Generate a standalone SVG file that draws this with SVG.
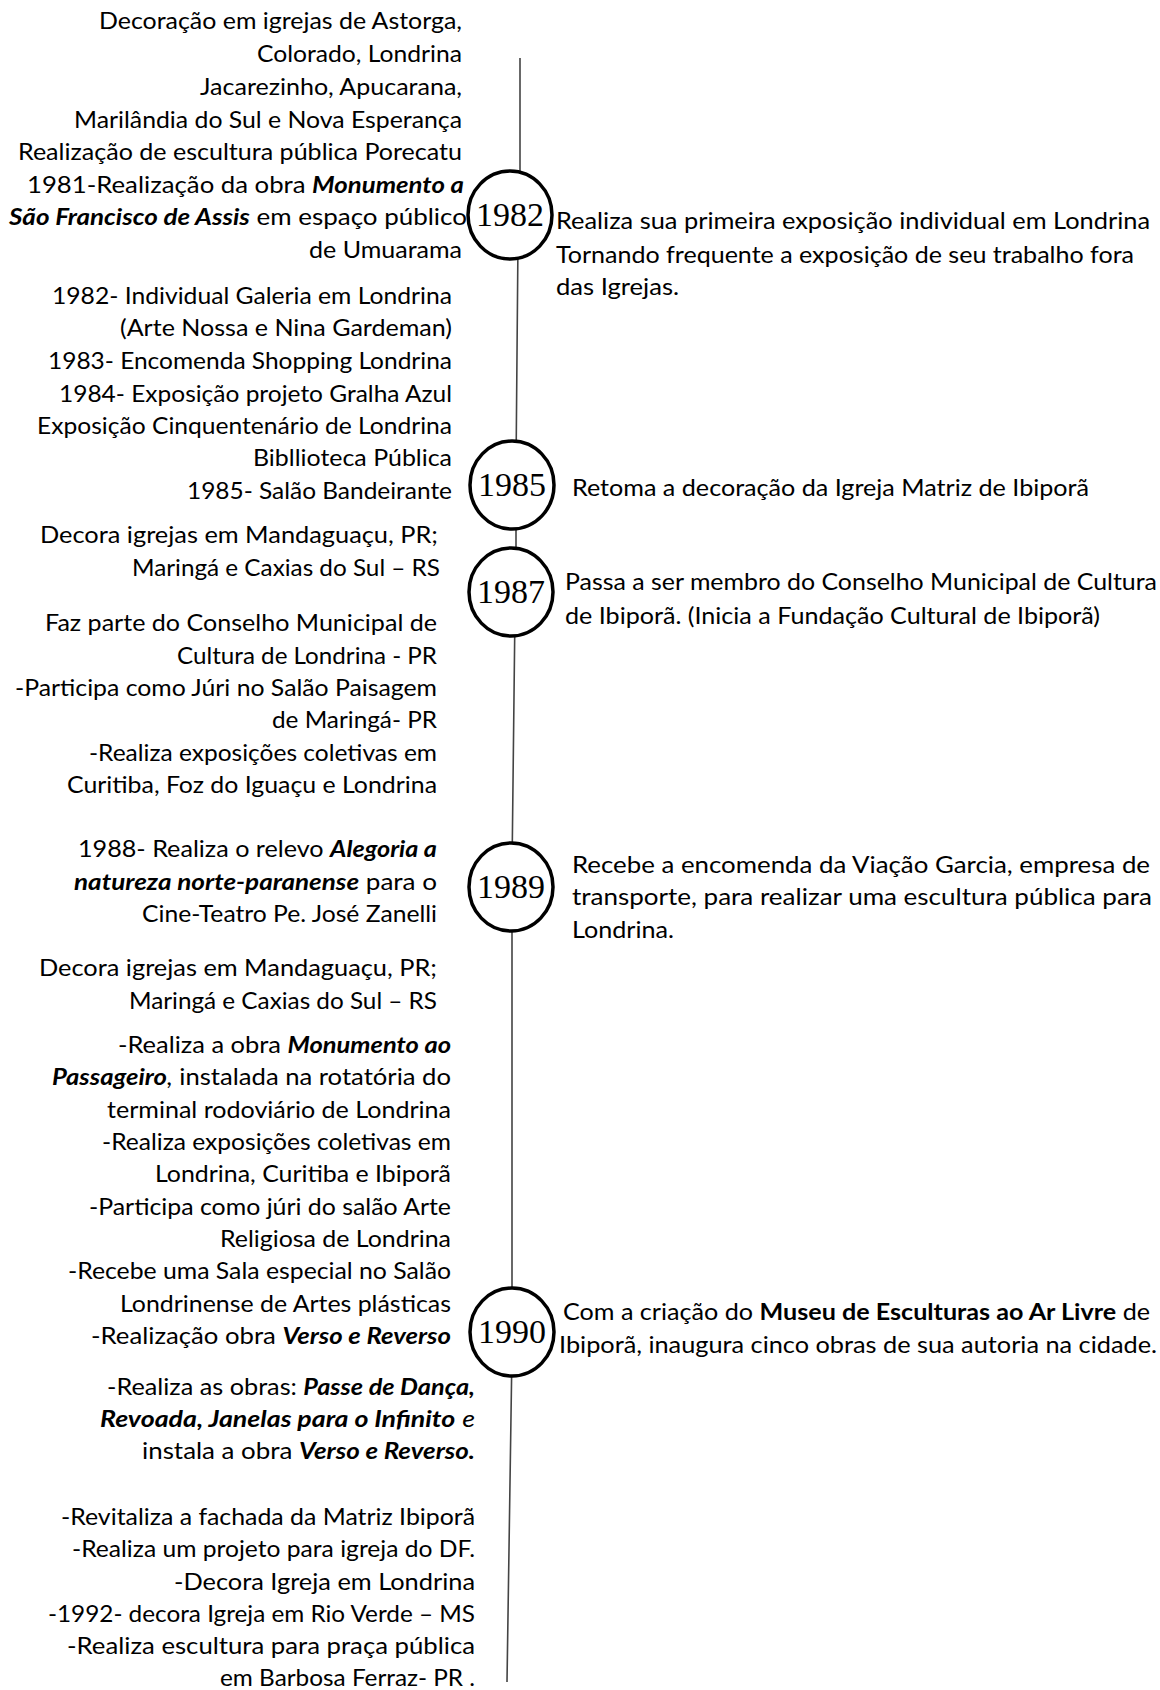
<svg xmlns="http://www.w3.org/2000/svg" width="1160" height="1690" viewBox="0 0 1160 1690">
<style>
.t{font-family:Lato,"Liberation Sans",sans-serif;font-size:23px;fill:#000}
.e{text-anchor:end}
.bi{font-weight:bold;font-style:italic}
.b{font-weight:bold}
.i{font-style:italic}
.yr{font-family:"Liberation Serif",serif;font-size:34px;fill:#000;text-anchor:middle}
.c{fill:#fff;stroke:#000;stroke-width:3.5}
.ln{fill:none;stroke:#444;stroke-width:1.6}
</style>
<rect width="1160" height="1690" fill="#fff"/>
<g id="connectors">
<path class="ln" d="M520,58 V200 M518,240 L516,470 M516,500 V570 M515,610 L512,870 M512,905 L512,1310 M512,1350 L507,1682"/>
</g>
<g id="left-1982">
<text class="t e" x="462" y="29" textLength="363" lengthAdjust="spacingAndGlyphs">Decoração em igrejas de Astorga,</text>
<text class="t e" x="462" y="62" textLength="205" lengthAdjust="spacingAndGlyphs">Colorado, Londrina</text>
<text class="t e" x="462" y="95" textLength="262" lengthAdjust="spacingAndGlyphs">Jacarezinho, Apucarana,</text>
<text class="t e" x="462" y="128" textLength="388" lengthAdjust="spacingAndGlyphs">Marilândia do Sul e Nova Esperança</text>
<text class="t e" x="462" y="160" textLength="444" lengthAdjust="spacingAndGlyphs">Realização de escultura pública  Porecatu</text>
<text class="t e" x="464" y="193" textLength="437" lengthAdjust="spacingAndGlyphs">1981-Realização da obra  <tspan class="bi">Monumento a</tspan></text>
<text class="t e" x="467" y="225" textLength="458" lengthAdjust="spacingAndGlyphs"><tspan class="bi">São Francisco de Assis</tspan> em espaço público</text>
<text class="t e" x="462" y="258" textLength="153" lengthAdjust="spacingAndGlyphs">de Umuarama</text>
</g>
<g id="left-1985">
<text class="t e" x="452" y="304" textLength="400" lengthAdjust="spacingAndGlyphs">1982- Individual Galeria em Londrina</text>
<text class="t e" x="452" y="336" textLength="332" lengthAdjust="spacingAndGlyphs">(Arte Nossa e Nina Gardeman)</text>
<text class="t e" x="452" y="369" textLength="404" lengthAdjust="spacingAndGlyphs">1983- Encomenda Shopping Londrina</text>
<text class="t e" x="452" y="402" textLength="393" lengthAdjust="spacingAndGlyphs">1984- Exposição projeto  Gralha Azul</text>
<text class="t e" x="452" y="434" textLength="415" lengthAdjust="spacingAndGlyphs">Exposição Cinquentenário de Londrina</text>
<text class="t e" x="452" y="466" textLength="199" lengthAdjust="spacingAndGlyphs">Bibllioteca Pública</text>
<text class="t e" x="452" y="499" textLength="265" lengthAdjust="spacingAndGlyphs">1985- Salão Bandeirante</text>
</g>
<g id="left-1987">
<text class="t e" x="438" y="543" textLength="398" lengthAdjust="spacingAndGlyphs">Decora  igrejas em Mandaguaçu, PR;</text>
<text class="t e" x="440" y="576" textLength="308" lengthAdjust="spacingAndGlyphs">Maringá e Caxias do Sul – RS</text>
<text class="t e" x="437" y="631" textLength="392" lengthAdjust="spacingAndGlyphs">Faz parte do Conselho Municipal  de</text>
<text class="t e" x="437" y="664" textLength="260" lengthAdjust="spacingAndGlyphs">Cultura de Londrina - PR</text>
<text class="t e" x="437" y="696" textLength="422" lengthAdjust="spacingAndGlyphs">-Participa como Júri no Salão Paisagem</text>
<text class="t e" x="437" y="728" textLength="165" lengthAdjust="spacingAndGlyphs">de Maringá- PR</text>
<text class="t e" x="437" y="761" textLength="348" lengthAdjust="spacingAndGlyphs">-Realiza exposições coletivas em</text>
<text class="t e" x="437" y="793" textLength="370" lengthAdjust="spacingAndGlyphs">Curitiba, Foz do  Iguaçu e Londrina</text>
</g>
<g id="left-1989">
<text class="t e" x="437" y="857" textLength="359" lengthAdjust="spacingAndGlyphs">1988- Realiza o relevo <tspan class="bi">Alegoria a</tspan></text>
<text class="t e" x="437" y="890" textLength="363" lengthAdjust="spacingAndGlyphs"><tspan class="bi">natureza norte-paranense</tspan>  para o</text>
<text class="t e" x="437" y="922" textLength="295" lengthAdjust="spacingAndGlyphs">Cine-Teatro Pe. José Zanelli</text>
<text class="t e" x="437" y="976" textLength="398" lengthAdjust="spacingAndGlyphs">Decora  igrejas em Mandaguaçu, PR;</text>
<text class="t e" x="437" y="1009" textLength="308" lengthAdjust="spacingAndGlyphs">Maringá e Caxias do Sul – RS</text>
</g>
<g id="left-1990">
<text class="t e" x="451" y="1053" textLength="333" lengthAdjust="spacingAndGlyphs">-Realiza a obra <tspan class="bi">Monumento ao</tspan></text>
<text class="t e" x="451" y="1085" textLength="399" lengthAdjust="spacingAndGlyphs"><tspan class="bi">Passageiro</tspan><tspan class="i">,</tspan> instalada na rotatória do</text>
<text class="t e" x="451" y="1118" textLength="344" lengthAdjust="spacingAndGlyphs">terminal rodoviário de Londrina</text>
<text class="t e" x="451" y="1150" textLength="349" lengthAdjust="spacingAndGlyphs">-Realiza exposições coletivas em</text>
<text class="t e" x="451" y="1182" textLength="296" lengthAdjust="spacingAndGlyphs">Londrina, Curitiba e Ibiporã</text>
<text class="t e" x="451" y="1215" textLength="362" lengthAdjust="spacingAndGlyphs">-Participa como júri do salão Arte</text>
<text class="t e" x="451" y="1247" textLength="231" lengthAdjust="spacingAndGlyphs">Religiosa de Londrina</text>
<text class="t e" x="451" y="1279" textLength="383" lengthAdjust="spacingAndGlyphs">-Recebe uma Sala especial no Salão</text>
<text class="t e" x="451" y="1312" textLength="331" lengthAdjust="spacingAndGlyphs">Londrinense de Artes plásticas</text>
<text class="t e" x="451" y="1344" textLength="360" lengthAdjust="spacingAndGlyphs">-Realização obra <tspan class="bi">Verso e Reverso</tspan></text>
</g>
<g id="left-1990-obras">
<text class="t e" x="475" y="1395" textLength="368" lengthAdjust="spacingAndGlyphs">-Realiza as obras: <tspan class="bi">Passe de Dança,</tspan></text>
<text class="t e" x="475" y="1427" textLength="375" lengthAdjust="spacingAndGlyphs"><tspan class="bi">Revoada, Janelas para o Infinito</tspan> <tspan class="i">e</tspan></text>
<text class="t e" x="475" y="1459" textLength="333" lengthAdjust="spacingAndGlyphs">instala a obra <tspan class="bi">Verso e Reverso.</tspan></text>
</g>
<g id="left-1992">
<text class="t e" x="475" y="1525" textLength="414" lengthAdjust="spacingAndGlyphs">-Revitaliza a fachada da Matriz Ibiporã</text>
<text class="t e" x="475" y="1557" textLength="403" lengthAdjust="spacingAndGlyphs">-Realiza um projeto para igreja do DF.</text>
<text class="t e" x="475" y="1590" textLength="301" lengthAdjust="spacingAndGlyphs">-Decora Igreja  em Londrina</text>
<text class="t e" x="475" y="1622" textLength="427" lengthAdjust="spacingAndGlyphs">-1992- decora Igreja em Rio Verde – MS</text>
<text class="t e" x="475" y="1654" textLength="408" lengthAdjust="spacingAndGlyphs">-Realiza escultura  para praça  pública</text>
<text class="t e" x="475" y="1686" textLength="255" lengthAdjust="spacingAndGlyphs">em Barbosa Ferraz- PR .</text>
</g>
<g id="node-1982">
<ellipse class="c" cx="510" cy="215" rx="42" ry="44"/>
<text class="yr" x="510" y="226" textLength="68" lengthAdjust="spacingAndGlyphs">1982</text>
<text class="t" x="556" y="229" textLength="594" lengthAdjust="spacingAndGlyphs">Realiza sua primeira exposição individual em Londrina</text>
<text class="t" x="556" y="263" textLength="578" lengthAdjust="spacingAndGlyphs">Tornando frequente a exposição  de seu trabalho fora</text>
<text class="t" x="556" y="295" textLength="123" lengthAdjust="spacingAndGlyphs">das Igrejas.</text>
</g>
<g id="node-1985">
<ellipse class="c" cx="512" cy="485" rx="42" ry="44"/>
<text class="yr" x="512" y="496" textLength="68" lengthAdjust="spacingAndGlyphs">1985</text>
<text class="t" x="572" y="496" textLength="517" lengthAdjust="spacingAndGlyphs">Retoma a decoração da Igreja Matriz de Ibiporã</text>
</g>
<g id="node-1987">
<ellipse class="c" cx="511" cy="592" rx="42" ry="44"/>
<text class="yr" x="511" y="603" textLength="68" lengthAdjust="spacingAndGlyphs">1987</text>
<text class="t" x="565" y="590" textLength="592" lengthAdjust="spacingAndGlyphs">Passa a ser membro do Conselho Municipal de Cultura</text>
<text class="t" x="565" y="624" textLength="535" lengthAdjust="spacingAndGlyphs">de Ibiporã. (Inicia a Fundação  Cultural de Ibiporã)</text>
</g>
<g id="node-1989">
<ellipse class="c" cx="511" cy="887" rx="42" ry="44"/>
<text class="yr" x="511" y="898" textLength="68" lengthAdjust="spacingAndGlyphs">1989</text>
<text class="t" x="572" y="873" textLength="578" lengthAdjust="spacingAndGlyphs">Recebe a encomenda da Viação Garcia, empresa de</text>
<text class="t" x="572" y="905" textLength="580" lengthAdjust="spacingAndGlyphs">transporte, para realizar uma escultura pública para</text>
<text class="t" x="572" y="938" textLength="102" lengthAdjust="spacingAndGlyphs">Londrina.</text>
</g>
<g id="node-1990">
<ellipse class="c" cx="512" cy="1332" rx="42" ry="44"/>
<text class="yr" x="512" y="1343" textLength="68" lengthAdjust="spacingAndGlyphs">1990</text>
<text class="t" x="563" y="1320" textLength="587" lengthAdjust="spacingAndGlyphs">Com a criação do <tspan class="b">Museu de Esculturas ao Ar Livre</tspan> de</text>
<text class="t" x="559" y="1353" textLength="598" lengthAdjust="spacingAndGlyphs">Ibiporã, inaugura cinco obras de sua autoria na cidade.</text>
</g>
</svg>
